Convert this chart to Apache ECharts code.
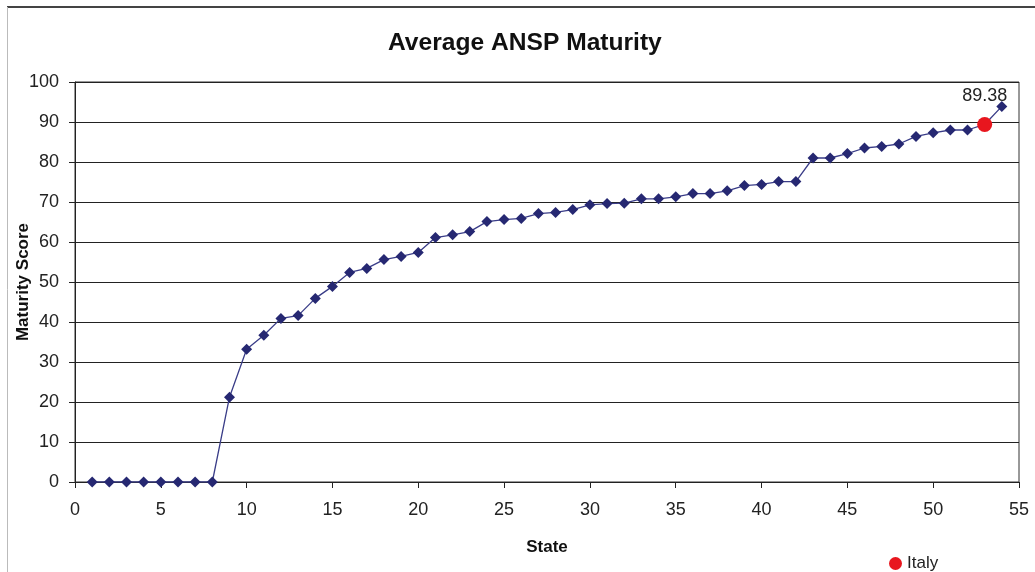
<!DOCTYPE html>
<html>
<head>
<meta charset="utf-8">
<script src="https://cdn.jsdelivr.net/npm/echarts@6/dist/echarts.min.js"></script>
<style>
  html, body { margin: 0; padding: 0; background: #fff; }
  #chart { width: 1035px; height: 572px; }
</style>
</head>
<body>
<div id="chart"></div>
<script>
// state numbers 1..54 and their average maturity scores
var states = [1, 2, 3, 4, 5, 6, 7, 8, 9, 10, 11, 12, 13, 14, 15, 16, 17, 18,
  19, 20, 21, 22, 23, 24, 25, 26, 27, 28, 29, 30, 31, 32, 33, 34, 35, 36,
  37, 38, 39, 40, 41, 42, 43, 44, 45, 46, 47, 48, 49, 50, 51, 52, 53, 54];
var scores = [0, 0, 0, 0, 0, 0, 0, 0, 21.2, 33.2, 36.7, 40.9, 41.6, 45.9, 48.9, 52.4, 53.4, 55.6,
  56.4, 57.4, 61.1, 61.8, 62.6, 65.1, 65.6, 65.9, 67.1, 67.4, 68.1, 69.3, 69.6, 69.7, 70.8, 70.8, 71.3, 72.1,
  72.1, 72.8, 74.1, 74.4, 75.1, 75.1, 81.0, 81.0, 82.1, 83.5, 83.9, 84.5, 86.4, 87.3, 88.0, 88.0, 89.38, 93.9];
var italyState = 53;
var italyScore = 89.38;

var font = 'Liberation Sans, Arial, sans-serif';
var lineData = states.map(function (s, i) { return [s, scores[i]]; });

var option = {
  animation: false,
  backgroundColor: '#fff',
  textStyle: { fontFamily: font },
  title: {
    text: 'Average ANSP Maturity',
    left: 383,
    top: 26,
    textStyle: { fontFamily: font, fontSize: 24.6, fontWeight: 'bold', color: '#111' }
  },
  legend: {
    data: ['Italy'],
    left: 884,
    top: 550,
    icon: 'circle',
    itemWidth: 13,
    itemHeight: 13,
    itemGap: 4,
    textStyle: { fontFamily: font, fontSize: 17, color: '#222' }
  },
  grid: {
    left: 75, right: 16, top: 82, bottom: 90,
    outerBoundsMode: 'none',
    containLabel: false,
    show: true, borderColor: '#333', borderWidth: 1
  },
  xAxis: {
    type: 'value',
    min: 0, max: 55, interval: 5,
    name: 'State',
    nameLocation: 'middle',
    nameGap: 57,
    nameMoveOverlap: false,
    nameTextStyle: { fontFamily: font, fontSize: 17, fontWeight: 'bold', color: '#111' },
    axisLine: { show: true, lineStyle: { color: '#222', width: 1 } },
    axisTick: { show: true, length: 6, lineStyle: { color: '#222' } },
    axisLabel: { fontFamily: font, fontSize: 18, color: '#222', margin: 19 },
    splitLine: { show: false }
  },
  yAxis: {
    type: 'value',
    min: 0, max: 100, interval: 10,
    name: 'Maturity Score',
    nameLocation: 'middle',
    nameGap: 43,
    nameMoveOverlap: false,
    nameTextStyle: { fontFamily: font, fontSize: 17, fontWeight: 'bold', color: '#111' },
    axisLine: { show: true, lineStyle: { color: '#222', width: 1 } },
    axisTick: { show: true, length: 6, lineStyle: { color: '#222' } },
    axisLabel: { fontFamily: font, fontSize: 18, color: '#222', margin: 16 },
    splitLine: { show: true, lineStyle: { color: '#222', width: 1 } }
  },
  graphic: [
    { type: 'line', shape: { x1: 7, y1: 7, x2: 1035, y2: 7 }, style: { stroke: '#444', lineWidth: 2 } },
    { type: 'line', shape: { x1: 7.5, y1: 7, x2: 7.5, y2: 572 }, style: { stroke: '#bbb', lineWidth: 1 } }
  ],
  series: [
    {
      name: 'ANSP',
      type: 'line',
      data: lineData,
      symbol: 'diamond',
      symbolSize: 11,
      lineStyle: { color: '#3a3d88', width: 1.3 },
      itemStyle: { color: '#262872' },
      z: 2
    },
    {
      name: 'Italy',
      type: 'scatter',
      data: [[italyState, italyScore]],
      symbol: 'circle',
      symbolSize: 15,
      itemStyle: { color: '#e8161e', opacity: 1 },
      label: {
        show: true,
        position: 'top',
        distance: 12,
        formatter: function (p) { return p.value[1].toFixed(2); },
        fontFamily: font,
        fontSize: 18,
        color: '#222'
      },
      z: 3
    }
  ]
};

var chart = echarts.init(document.getElementById('chart'));
chart.setOption(option);
</script>
</body>
</html>
